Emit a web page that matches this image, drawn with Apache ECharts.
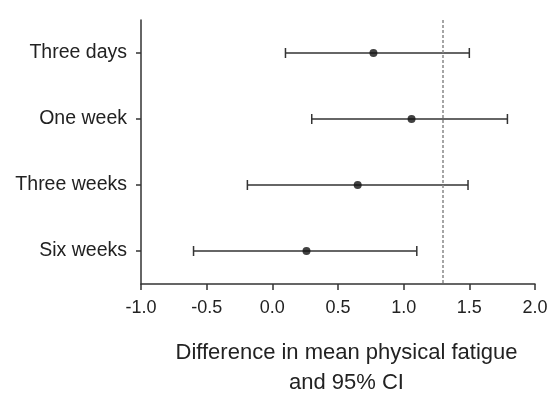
<!DOCTYPE html>
<html>
<head>
<meta charset="utf-8">
<script src="https://cdn.jsdelivr.net/npm/echarts@6/dist/echarts.min.js"></script>
<style>html,body{margin:0;padding:0;background:#fff}#c{width:549px;height:393px}</style>
</head>
<body>
<div id="c"></div>
<script>
var categories = ['Three days', 'One week', 'Three weeks', 'Six weeks'];
var meanDiff = [0.77, 1.06, 0.65, 0.26];
var lowerCI = [0.10, 0.30, -0.19, -0.60];
var upperCI = [1.50, 1.79, 1.49, 1.10];
var referenceLine = 1.3;
var xTicks = { min: -1.0, max: 2.0, interval: 0.5 };
var xTitle = 'Difference in mean physical fatigue\nand 95% CI';

var FONT = '"Liberation Sans", Arial, sans-serif';
var chart = echarts.init(document.getElementById('c'), null, { renderer: 'canvas' });

var barData = categories.map(function (c, i) { return [i, lowerCI[i], upperCI[i]]; });
var pointData = categories.map(function (c, i) { return [meanDiff[i], i]; });

chart.setOption({
  animation: false,
  backgroundColor: '#fff',
  grid: { left: 141, right: 14, top: 20, bottom: 109, containLabel: false, outerBoundsMode: 'none' },
  xAxis: {
    type: 'value', min: xTicks.min, max: xTicks.max, interval: xTicks.interval,
    axisLine: { show: true, onZero: false, lineStyle: { color: '#333', width: 1.5 } },
    axisTick: { show: true, length: 6, lineStyle: { color: '#333', width: 1.5 } },
    splitLine: { show: false },
    axisLabel: {
      color: '#222', fontSize: 18, fontFamily: FONT, margin: 15,
      formatter: function (v) { return v.toFixed(1); }
    },
    name: xTitle, nameLocation: 'middle', nameGap: 54,
    nameTextStyle: { color: '#222', fontSize: 22, fontFamily: FONT, lineHeight: 30, padding: [0, 0, 0, 17] }
  },
  yAxis: {
    type: 'category', data: categories, inverse: true, boundaryGap: true,
    axisLine: { show: true, onZero: false, lineStyle: { color: '#333', width: 1.5 } },
    axisTick: { show: true, alignWithLabel: true, length: 5, lineStyle: { color: '#333', width: 1.5 } },
    splitLine: { show: false },
    axisLabel: { color: '#222', fontSize: 19.5, fontFamily: FONT, margin: 14 }
  },
  series: [
    {
      type: 'custom',
      data: barData,
      encode: { x: [1, 2], y: 0 },
      renderItem: function (params, api) {
        var idx = api.value(0);
        var lo = api.coord([api.value(1), idx]);
        var hi = api.coord([api.value(2), idx]);
        var cap = 5;
        var st = { stroke: '#333', lineWidth: 1.5 };
        return {
          type: 'group',
          children: [
            { type: 'line', shape: { x1: lo[0], y1: lo[1], x2: hi[0], y2: hi[1] }, style: st },
            { type: 'line', shape: { x1: lo[0], y1: lo[1] - cap, x2: lo[0], y2: lo[1] + cap }, style: st },
            { type: 'line', shape: { x1: hi[0], y1: hi[1] - cap, x2: hi[0], y2: hi[1] + cap }, style: st }
          ]
        };
      },
      z: 2
    },
    {
      type: 'scatter',
      data: pointData,
      symbol: 'circle', symbolSize: 8,
      itemStyle: { color: '#111' },
      z: 3,
      markLine: {
        silent: true, symbol: 'none',
        label: { show: false },
        lineStyle: { color: '#888', type: [3, 2], width: 1.5 },
        data: [{ xAxis: referenceLine }]
      }
    }
  ]
});
</script>
</body>
</html>
